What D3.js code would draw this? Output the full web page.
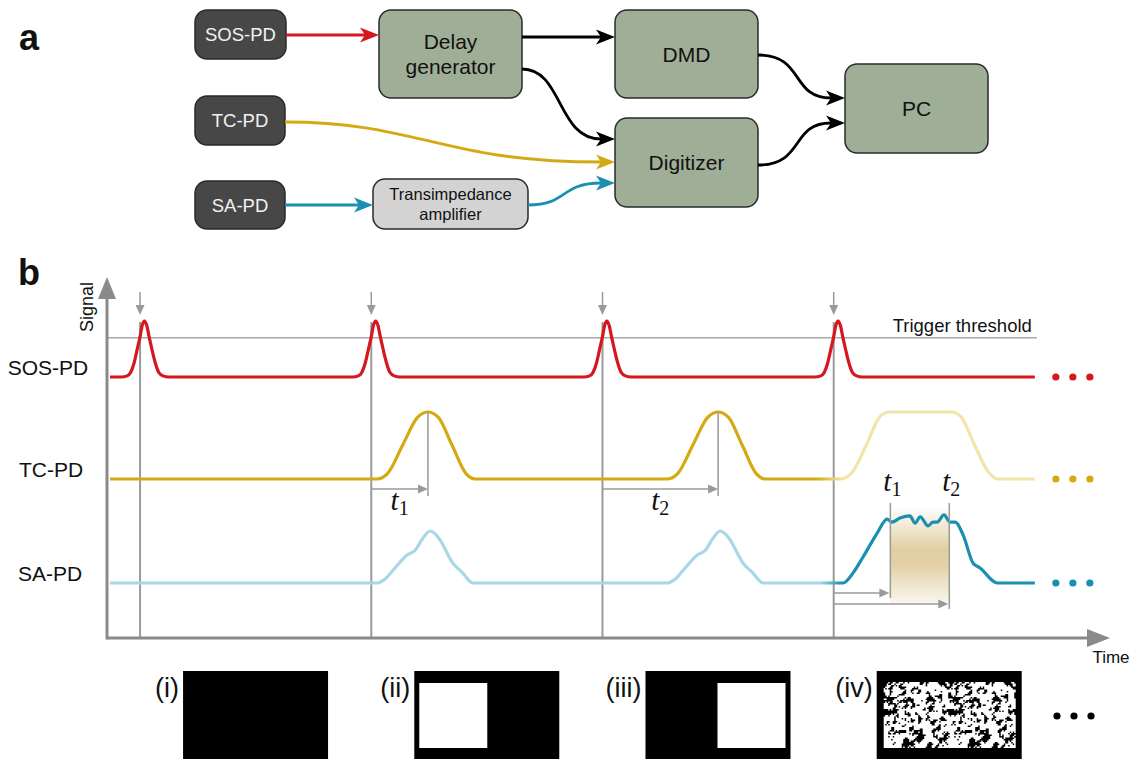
<!DOCTYPE html>
<html><head><meta charset="utf-8">
<script src="https://cdn.jsdelivr.net/npm/d3@7"></script>
<style>body{margin:0;background:#fff} svg{display:block}</style>
</head><body>
<svg id="c" width="1135" height="759"></svg>
<script>
// ---------------- DATA ----------------
const channels = ["SOS-PD", "TC-PD", "SA-PD"];
const triggerTimes = [0, 10, 20, 30];           // trigger instants (arb. units)
const timeDomain = [-1.43, 41.95];
const signalSpan = [-1.3, 38.7];
const thresholdLevel = 0.7;
// SOS pulse, offsets relative to trigger instant (peak just after trigger)
const sosPulse = [[-0.81,0],[-0.56,0.02],[-0.41,0.08],[-0.26,0.25],[-0.11,0.52],[0,0.72],[0.09,0.92],[0.19,1],[0.29,0.92],[0.39,0.72],[0.51,0.5],[0.66,0.25],[0.81,0.08],[0.99,0.02],[1.24,0]];
// delays t1, t2 applied in frames (ii) and (iii)
const delayLabels = ["t1", "t2"];
const delays = [2.45, 5.0];
const delayFrames = [1, 2];
// TC / SA pulses relative to delayed instant
const tcPulse = [[-2.2,0],[-1.75,0.08],[-1.1,0.5],[-0.45,0.92],[0,1],[0.45,0.92],[1.05,0.5],[1.65,0.08],[2.05,0]];
const saPulse = [[-2.2,0],[-1.9,0.06],[-1.5,0.25],[-0.9,0.54],[-0.55,0.63],[-0.25,0.84],[0.09,1],[0.3,0.95],[0.52,0.83],[1.08,0.38],[1.47,0.21],[1.95,0]];
// frame (iv): sweep, relative to trigger
const tcSweep = [[0.3,0],[0.8,0.1],[1.4,0.5],[2.0,0.93],[2.4,1],[5.1,1],[5.5,0.93],[6.1,0.5],[6.7,0.1],[7.1,0]];
const saSweep = [[0.41,0],[0.8,0.17],[1.27,0.5],[1.88,0.96],[2.31,1.23],[2.52,1.17],[2.87,1.25],[3.30,1.29],[3.52,1.15],[3.74,1.27],[4.08,1.10],[4.30,1.17],[4.47,1.17],[4.77,1.31],[5.03,1.17],[5.25,1.17],[5.60,0.92],[6.03,0.38],[6.33,0.29],[7.07,0]];
const frameLabels = ["(i)", "(ii)", "(iii)", "(iv)"];
const framePatterns = ["dark", "left", "right", "random"];

// ---------------- SETUP ----------------
const svg = d3.select("#c");
const SANS = "'Liberation Sans', Arial, Helvetica, sans-serif";
const SERIF = "'Liberation Serif', 'Times New Roman', serif";
const RED = "#d5171e", GOLD = "#d4a912", GOLD_PALE = "#f3e4a9", BLUE = "#1990b0", BLUE_PALE = "#a7d8e5";
const GRAY = "#9a9a9a", AXIS = "#8a8a8a";
const GREEN = "#9fae97", DARK = "#474747";
const defs = svg.append("defs");

function txt(g, x, y, s, size, opts = {}) {
  return g.append("text").attr("x", x).attr("y", y).text(s)
    .attr("font-family", opts.family || SANS).attr("font-size", size)
    .attr("fill", opts.fill || "#111").attr("text-anchor", opts.anchor || "middle")
    .attr("font-weight", opts.weight || "normal");
}
function head(g, tipX, y, color, len = 19, hw = 7.5) {
  g.append("path").attr("d", `M${tipX},${y} L${tipX-len},${y-hw} L${tipX-len+5},${y} L${tipX-len},${y+hw} Z`).attr("fill", color);
}

// ---------------- PANEL A ----------------
const A = svg.append("g");
txt(A, 19, 50, "a", 36, {anchor: "start", weight: "bold"});
const boxes = [
  {x:195,y:10,w:91,h:49,fill:DARK,lines:["SOS-PD"],size:18.5,col:"#f2f2f2",r:12},
  {x:195,y:96,w:90,h:49,fill:DARK,lines:["TC-PD"],size:18.5,col:"#f2f2f2",r:12},
  {x:195,y:181,w:90,h:48,fill:DARK,lines:["SA-PD"],size:18.5,col:"#f2f2f2",r:12},
  {x:379,y:10,w:143,h:88,fill:GREEN,lines:["Delay","generator"],size:21,col:"#111",r:12},
  {x:373,y:179,w:155,h:50,fill:"#d3d3d3",lines:["Transimpedance","amplifier"],size:16.5,col:"#111",r:12},
  {x:615,y:10,w:143,h:88,fill:GREEN,lines:["DMD"],size:21,col:"#111",r:12},
  {x:615,y:118,w:143,h:89,fill:GREEN,lines:["Digitizer"],size:21,col:"#111",r:12},
  {x:845,y:64,w:143,h:89,fill:GREEN,lines:["PC"],size:21,col:"#111",r:12}
];
boxes.forEach(b => {
  A.append("rect").attr("x",b.x).attr("y",b.y).attr("width",b.w).attr("height",b.h)
    .attr("rx",b.r).attr("fill",b.fill).attr("stroke","#2a2a2a").attr("stroke-width",1.5);
  const n = b.lines.length, lh = b.size*1.2;
  b.lines.forEach((l,i) => {
    const cy = b.y + b.h/2 + (i-(n-1)/2)*lh + b.size*0.36;
    txt(A, b.x+b.w/2, cy, l, b.size, {fill:b.col});
  });
});
const links = [
  {d:"M286,35 H365", tip:[379,35], c:RED},
  {d:"M522,37 H601", tip:[615,37], c:"#000"},
  {d:"M522,69 C563,69 557,139 601,139", tip:[615,139], c:"#000"},
  {d:"M285,122 C420,122 440,162 601,162", tip:[615,162], c:GOLD},
  {d:"M285,205 H359", tip:[373,205], c:BLUE},
  {d:"M528,205 C568,205 560,183 601,183", tip:[615,183], c:BLUE},
  {d:"M758,55 C805,55 790,98 831,98", tip:[845,98], c:"#000"},
  {d:"M758,165 C805,165 790,123 831,123", tip:[845,123], c:"#000"}
];
links.forEach(l => {
  A.append("path").attr("d", l.d).attr("fill","none").attr("stroke", l.c).attr("stroke-width", 2.8);
  head(A, l.tip[0], l.tip[1], l.c);
});

// ---------------- PANEL B ----------------
const B = svg.append("g");
txt(B, 18, 285, "b", 36, {anchor:"start", weight:"bold"});
const x = d3.scaleLinear().domain(timeDomain).range([107, 1110]);
const y = {
  "SOS-PD": d3.scaleLinear().domain([0,1]).range([377, 321]),
  "TC-PD":  d3.scaleLinear().domain([0,1]).range([479, 412]),
  "SA-PD":  d3.scaleLinear().domain([0,1]).range([583, 531])
};
const axisY = 638, axisX = x.range()[0];

// trigger vertical lines & small arrows
triggerTimes.forEach(t => {
  const xx = x(t);
  B.append("line").attr("x1",xx).attr("x2",xx).attr("y1",y["SOS-PD"](1)+1).attr("y2",axisY)
    .attr("stroke",GRAY).attr("stroke-width",2);
  B.append("line").attr("x1",xx).attr("x2",xx).attr("y1",292).attr("y2",306).attr("stroke",GRAY).attr("stroke-width",1.5);
  B.append("path").attr("d",`M${xx-4.5},305 L${xx+4.5},305 L${xx},315 Z`).attr("fill",GRAY);
});
// threshold
B.append("line").attr("x1",axisX).attr("x2",x(signalSpan[1])+2)
  .attr("y1",y["SOS-PD"](thresholdLevel)).attr("y2",y["SOS-PD"](thresholdLevel))
  .attr("stroke","#a8a8a8").attr("stroke-width",1.6);
txt(B, x(signalSpan[1])-3, 332, "Trigger threshold", 18.5, {anchor:"end"});

// build series
function shift(shape, t0){ return shape.map(p => [p[0]+t0, p[1]]); }
const sosData = [[signalSpan[0],0]].concat(...triggerTimes.map(t => shift(sosPulse, t)), [[signalSpan[1],0]]);
const tcData = [[signalSpan[0],0]];
const saData = [[signalSpan[0],0]];
delayFrames.forEach((f,i) => {
  tcData.push(...shift(tcPulse, triggerTimes[f]+delays[i]));
  saData.push(...shift(saPulse, triggerTimes[f]+delays[i]));
});
tcData.push(...shift(tcSweep, triggerTimes[3]), [signalSpan[1],0]);
saData.push(...shift(saSweep, triggerTimes[3]), [signalSpan[1],0]);

// gradients for colour transitions
function hGrad(id, x1, x2, c1, c2) {
  const g = defs.append("linearGradient").attr("id",id).attr("gradientUnits","userSpaceOnUse")
    .attr("x1",x1).attr("x2",x2).attr("y1",0).attr("y2",0);
  g.append("stop").attr("offset",0).attr("stop-color",c1);
  g.append("stop").attr("offset",1).attr("stop-color",c2);
}
hGrad("tcG", x(triggerTimes[3])-18, x(triggerTimes[3])+10, GOLD, GOLD_PALE);
hGrad("saG", x(triggerTimes[3])-14, x(triggerTimes[3])+8, BLUE_PALE, BLUE);

// delay band gradient (frame iv)
const vg = defs.append("linearGradient").attr("id","band").attr("x1",0).attr("x2",0).attr("y1",0).attr("y2",1);
[[0,0],[0.45,0.95],[0.6,0.9],[1,0.15]].forEach(s => vg.append("stop").attr("offset",s[0]).attr("stop-color","#e0cb9d").attr("stop-opacity",s[1]));
const t4 = triggerTimes[3];
B.append("rect").attr("x",x(t4+delays[0])).attr("width",x(t4+delays[1])-x(t4+delays[0]))
  .attr("y",506).attr("height",98).attr("fill","url(#band)");

const line = ch => d3.line().x(d => x(d[0])).y(d => y[ch](d[1])).curve(d3.curveMonotoneX);
const series = [
  {ch:"SOS-PD", data:sosData, stroke:RED, dot:RED},
  {ch:"TC-PD", data:tcData, stroke:"url(#tcG)", dot:GOLD},
  {ch:"SA-PD", data:saData, stroke:"url(#saG)", dot:BLUE}
];
series.forEach(s => {
  B.append("path").datum(s.data).attr("d", line(s.ch)).attr("fill","none")
    .attr("stroke", s.stroke).attr("stroke-width", 3.2).attr("stroke-linejoin","round");
  [0,1,2].forEach(k => B.append("circle").attr("cx", x(signalSpan[1]) + 21 + 17*k).attr("cy", y[s.ch](0))
    .attr("r", 3.6).attr("fill", s.dot));
});
// channel labels
const labelX = {"SOS-PD":48, "TC-PD":51, "SA-PD":50};
channels.forEach(ch => txt(B, labelX[ch], y[ch](0) - 2, ch, 21));

// delay markers
function garrow(x1, x2, yy) {
  B.append("line").attr("x1",x1).attr("x2",x2-8).attr("y1",yy).attr("y2",yy).attr("stroke",GRAY).attr("stroke-width",1.5);
  B.append("path").attr("d",`M${x2},${yy} L${x2-10},${yy-4.5} L${x2-10},${yy+4.5} Z`).attr("fill",GRAY);
}
function tlabel(xx, yy, i) {
  const t = B.append("text").attr("x",xx).attr("y",yy).attr("font-family",SERIF).attr("fill","#111");
  t.append("tspan").attr("font-style","italic").attr("font-size",29).text(delayLabels[i][0]);
  t.append("tspan").attr("font-size",20).attr("dy",5).text(delayLabels[i].slice(1));
}
delayFrames.forEach((f,i) => {
  const t0 = triggerTimes[f], tp = t0 + delays[i];
  B.append("line").attr("x1",x(tp)).attr("x2",x(tp)).attr("y1",y["TC-PD"](1)).attr("y2",496).attr("stroke",GRAY).attr("stroke-width",1.5);
  garrow(x(t0), x(tp), 489);
  tlabel((x(t0)+x(tp))/2 - 9, 510, i);
});
// frame iv markers
delays.forEach((d,i) => {
  B.append("line").attr("x1",x(t4+d)).attr("x2",x(t4+d)).attr("y1",503).attr("y2",i===0?598:609).attr("stroke",GRAY).attr("stroke-width",1.5);
  garrow(x(t4), x(t4+d)-1, i===0?593:604);
  tlabel(x(t4+d) - 7, 491, i);
});

// axes
B.append("line").attr("x1",axisX).attr("x2",axisX).attr("y1",axisY+1.5).attr("y2",296).attr("stroke",AXIS).attr("stroke-width",3);
B.append("path").attr("d",`M${axisX},277 L${axisX+9},299 L${axisX-9},299 Z`).attr("fill",AXIS);
B.append("line").attr("x1",axisX).attr("x2",x.range()[1]-18).attr("y1",axisY).attr("y2",axisY).attr("stroke",AXIS).attr("stroke-width",3);
B.append("path").attr("d",`M${x.range()[1]},${axisY} L${x.range()[1]-23},${axisY-9} L${x.range()[1]-23},${axisY+9} Z`).attr("fill",AXIS);
txt(B, 1111, 663, "Time", 17);
txt(B, 0, 0, "Signal", 18).attr("transform","translate(93,307) rotate(-90)");

// ---------------- DMD FRAMES ----------------
const F = svg.append("g");
// deterministic texture for the pseudo-random DMD pattern
function hash(i, j) {
  let h = Math.imul(i + 17, 0x27d4eb2d) ^ Math.imul(j + 0x9e37, 0x165667b1);
  h = Math.imul(h ^ (h >>> 15), 0x85ebca6b);
  h = Math.imul(h ^ (h >>> 13), 0xc2b2ae35);
  h ^= h >>> 16;
  return (h >>> 0) / 4294967296;
}
triggerTimes.forEach((t, k) => {
  const bx = x(t) + 43, by = 671, bw = 145, bh = 90;
  F.append("rect").attr("x",bx).attr("y",by).attr("width",bw).attr("height",bh).attr("fill","#000");
  txt(F, bx - 4, 697, frameLabels[k], 27, {anchor:"end"});
  const p = framePatterns[k];
  if (p === "left") F.append("rect").attr("x",bx+5).attr("y",by+12).attr("width",68).attr("height",65).attr("fill","#fff");
  if (p === "right") F.append("rect").attr("x",bx+bw-73).attr("y",by+12).attr("width",68).attr("height",65).attr("fill","#fff");
  if (p === "random") {
    const cols = 44, rows = 44, cw = 1.5, chh = 1.5;
    const px0 = bx + 7, py0 = by + 11;
    const raw = d3.range(rows).map(r => d3.range(cols).map(c => hash(c, r)));
    let d = "";
    for (let tile = 0; tile < 2; tile++) {
      for (let r = 0; r < rows; r++) for (let c = 0; c < cols; c++) {
        let s = 0, n = 0;
        for (let dr = -1; dr <= 1; dr++) for (let dc = -1; dc <= 1; dc++) {
          const rr = r + dr; if (rr < 0 || rr >= rows) continue;
          const w = (dr === 0 && dc === 0) ? 2 : (dr === -dc ? 1.4 : 0.8);
          s += raw[rr][(c + dc + cols) % cols] * w; n += w;
        }
        if (s / n > 0.44) d += `M${px0 + tile*cols*cw + c*cw},${py0 + r*chh}h${cw}v${chh}h${-cw}Z`;
      }
    }
    F.append("path").attr("d", d).attr("fill", "#fff");
  }
});
[0,1,2].forEach(k => F.append("circle").attr("cx", 1057 + 17*k).attr("cy", 716).attr("r", 3.6).attr("fill", "#000"));
</script>
</body></html>
